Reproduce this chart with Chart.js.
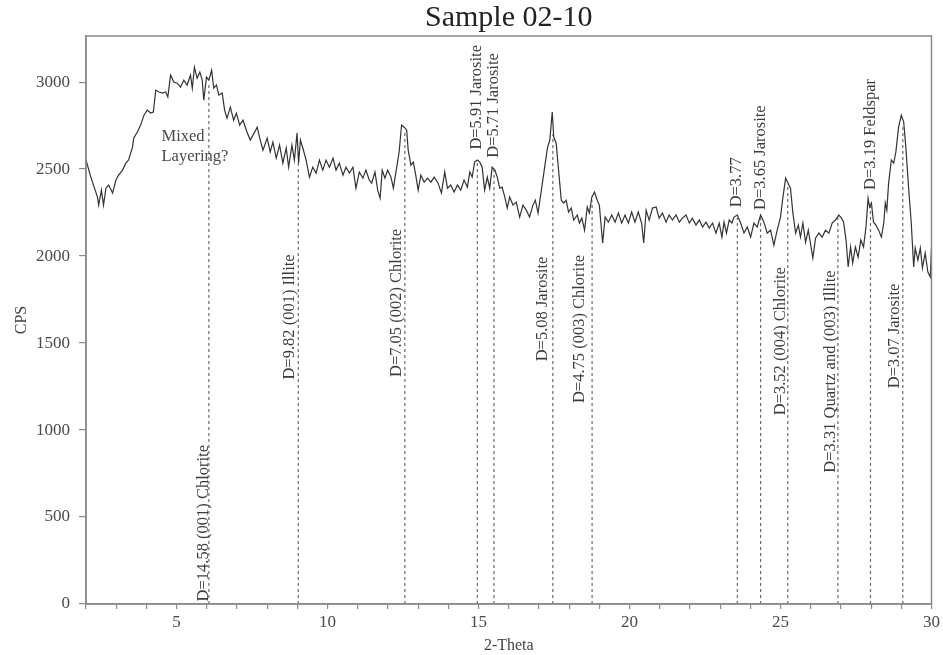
<!DOCTYPE html>
<html>
<head>
<meta charset="utf-8">
<title>Sample 02-10</title>
<script src="https://cdn.jsdelivr.net/npm/chart.js@4.4.1/dist/chart.umd.min.js"></script>
<style>
  html, body { margin: 0; padding: 0; background: #fff; }
  #wrap { width: 943px; height: 655px; }
</style>
</head>
<body>
<div id="wrap"><canvas id="xrdChart" width="943" height="655"></canvas></div>
<script>
// diffractogram trace, 2-theta (deg) vs counts per second
const twoTheta = [
  2.00, 2.16, 2.27, 2.38, 2.42, 2.51, 2.58, 2.66, 2.75, 2.88, 2.99, 3.08, 3.21, 3.32, 3.41, 3.54, 3.58, 3.70, 3.81, 3.92,
  4.03, 4.14, 4.23, 4.31, 4.42, 4.53, 4.64, 4.71, 4.80, 4.91, 5.02, 5.13, 5.24, 5.35, 5.46, 5.52, 5.59, 5.68, 5.77, 5.85,
  5.90, 5.99, 6.07, 6.16, 6.23, 6.32, 6.40, 6.51, 6.59, 6.67, 6.78, 6.89, 6.98, 7.09, 7.20, 7.33, 7.44, 7.53, 7.67, 7.77,
  7.86, 8.00, 8.10, 8.19, 8.30, 8.41, 8.52, 8.63, 8.71, 8.82, 8.90, 8.99, 9.04, 9.10, 9.18, 9.29, 9.40, 9.51, 9.62, 9.73,
  9.84, 9.95, 10.06, 10.18, 10.28, 10.39, 10.51, 10.61, 10.72, 10.84, 10.94, 11.05, 11.17, 11.27, 11.38,
  11.46, 11.57, 11.66, 11.74, 11.81, 11.90, 11.99, 12.10, 12.18, 12.29, 12.37, 12.45, 12.54, 12.62, 12.67, 12.76, 12.84, 12.92, 13.00, 13.09,
  13.20, 13.31, 13.42, 13.53, 13.66, 13.77, 13.88, 13.97, 14.08, 14.19, 14.30, 14.41, 14.52, 14.63, 14.71, 14.79, 14.87, 14.96, 15.04, 15.12,
  15.20, 15.29, 15.37, 15.45, 15.54, 15.62, 15.70, 15.78, 15.87, 15.95, 16.03, 16.14, 16.25, 16.36, 16.47, 16.58, 16.69, 16.80, 16.88, 16.97,
  17.08, 17.19, 17.28, 17.36, 17.44, 17.49, 17.57, 17.65, 17.74, 17.82, 17.90, 17.98, 18.07, 18.15, 18.27, 18.34, 18.42, 18.51, 18.60, 18.67,
  18.75, 18.84, 18.93, 19.00, 19.11, 19.19, 19.30, 19.41, 19.52, 19.63, 19.74, 19.85, 19.96, 20.07, 20.18, 20.29, 20.40, 20.47, 20.55, 20.65, 20.76,
  20.88, 20.98, 21.09, 21.21, 21.31, 21.42, 21.54, 21.65, 21.75, 21.87, 21.98, 22.08, 22.20, 22.31, 22.42, 22.53, 22.64, 22.75, 22.86, 22.97,
  23.06, 23.13, 23.21, 23.30, 23.39, 23.46, 23.57, 23.68, 23.79, 23.90, 24.01, 24.12, 24.23, 24.34, 24.45, 24.56, 24.67, 24.78, 24.89, 25.00,
  25.08, 25.17, 25.25, 25.33, 25.41, 25.50, 25.59, 25.66, 25.74, 25.83, 25.92, 25.99, 26.07, 26.16, 26.27, 26.38, 26.49, 26.60, 26.71, 26.82,
  26.93, 27.02, 27.09, 27.17, 27.24, 27.32, 27.39, 27.48, 27.57, 27.66, 27.75, 27.83, 27.90, 27.95, 28.01, 28.08, 28.16, 28.25, 28.34, 28.42,
  28.47, 28.52, 28.58, 28.67, 28.75, 28.82, 28.91, 29.00, 29.08, 29.15, 29.24, 29.33, 29.41, 29.46, 29.55, 29.63, 29.70, 29.79, 29.88, 29.96, 30.00
];
const cps = [
  2552, 2454, 2396, 2339, 2293, 2379, 2293, 2390, 2408, 2362, 2437, 2465, 2494, 2534, 2552, 2626, 2678, 2713, 2753, 2810,
  2839, 2822, 2828, 2954, 2943, 2937, 2943, 2914, 3040, 3000, 2994, 2971, 3011, 2983, 3040, 2965, 3086, 3023, 3057, 3011,
  2896, 3029, 3011, 3069, 2965, 2983, 2925, 2937, 2839, 2793, 2856, 2781, 2822, 2753, 2781, 2713, 2667, 2695, 2741, 2667,
  2609, 2678, 2598, 2655, 2563, 2638, 2534, 2621, 2511, 2638, 2552, 2707, 2534, 2667, 2621, 2552, 2454, 2511, 2477, 2552,
  2494, 2552, 2511, 2563, 2494, 2534, 2465, 2511, 2477, 2511, 2390, 2483, 2448, 2494, 2437,
  2419, 2483, 2379, 2333, 2494, 2448, 2494, 2454, 2390, 2511, 2598, 2753, 2741, 2724, 2609, 2523, 2540, 2465, 2379, 2465,
  2425, 2448, 2425, 2454, 2419, 2362, 2483, 2390, 2408, 2368, 2408, 2379, 2437, 2396, 2483, 2454, 2540, 2552, 2540, 2511,
  2379, 2454, 2390, 2511, 2494, 2454, 2390, 2396, 2339, 2276, 2339, 2293, 2310, 2224, 2293, 2264, 2224, 2293, 2321, 2247,
  2379, 2511, 2621, 2667, 2828, 2684, 2649, 2494, 2321, 2305, 2321, 2253, 2276, 2207, 2236, 2190, 2218, 2149, 2282, 2247,
  2339, 2368, 2321, 2293, 2075, 2224, 2195, 2236, 2195, 2247, 2190, 2236, 2190, 2253, 2195, 2253, 2190, 2075, 2264, 2207, 2276,
  2282, 2218, 2247, 2195, 2236, 2207, 2236, 2195, 2218, 2236, 2190, 2218, 2178, 2207, 2167, 2195, 2161, 2190, 2132, 2190,
  2109, 2195, 2132, 2207, 2190, 2224, 2236, 2190, 2132, 2167, 2109, 2190, 2167, 2236, 2195, 2132, 2149, 2063, 2149, 2224,
  2339, 2448, 2419, 2390, 2247, 2132, 2178, 2109, 2190, 2080, 2149, 2075, 1988, 2103, 2132, 2109, 2149, 2132, 2190, 2207,
  2236, 2218, 2195, 2092, 1937, 2052, 1960, 2052, 1994, 2092, 2052, 2167, 2333, 2282, 2305, 2195, 2178, 2149, 2109, 2190,
  2305, 2264, 2419, 2552, 2534, 2598, 2741, 2810, 2770, 2626, 2396, 2190, 1937, 2046, 1977, 2046, 1931, 2017, 1908, 1879, 2052
];

// identified reflections: position, intensity where the marker meets the trace, label
const peakTheta = [6.07, 9.03, 12.56, 14.96, 15.51, 17.46, 18.76, 23.57, 24.34, 25.24, 26.90, 27.98, 29.05];
const peakTop = [2985, 2550, 2720, 2545, 2505, 2700, 2320, 2220, 2220, 2400, 2225, 2285, 2740];
const peakLabels = [
  "D=14.58 (001) Chlorite",
  "D=9.82 (001) Illite",
  "D=7.05 (002) Chlorite",
  "D=5.91 Jarosite",
  "D=5.71 Jarosite",
  "D=5.08 Jarosite",
  "D=4.75 (003) Chlorite",
  "D=3.77",
  "D=3.65 Jarosite",
  "D=3.52 (004) Chlorite",
  "D=3.31 Quartz and (003) Illite",
  "D=3.19 Feldspar",
  "D=3.07 Jarosite"
];

const xTicks = [5, 10, 15, 20, 25, 30];
const yTicks = [0, 500, 1000, 1500, 2000, 2500, 3000];
const titleText = "Sample 02-10";
const noteLines = ["Mixed", "Layering?"];

// where each rotated label starts (counts) and how far it sits from its marker (px)
const labelPlace = [
  { from: 15, dx: -5 }, { from: 1290, dx: -9 }, { from: 1305, dx: -8 }, { from: 2612, dx: -1 },
  { from: 2565, dx: 0 }, { from: 1395, dx: -10 }, { from: 1155, dx: -12 }, { from: 2280, dx: -1 },
  { from: 2265, dx: 0 }, { from: 1085, dx: -7 }, { from: 755, dx: -7 }, { from: 2380, dx: 0 },
  { from: 1240, dx: -8 }
];

const SERIF = '"Liberation Serif", "DejaVu Serif", "Times New Roman", serif';

const markerSets = peakTheta.map((t, i) => ({
  data: [{ x: t, y: 0 }, { x: t, y: peakTop[i] }],
  borderColor: "#6a6a6a",
  borderWidth: 1.2,
  borderDash: [3, 3],
  pointRadius: 0,
  order: 2
}));

const chartFrame = {
  id: "chartFrame",
  afterDatasetsDraw(chart) {
    const { ctx, chartArea: a, scales: { x, y } } = chart;
    ctx.save();
    // title centred over the plot box
    ctx.fillStyle = "#222";
    ctx.font = "30px " + SERIF;
    ctx.textAlign = "center";
    ctx.textBaseline = "middle";
    ctx.fillText(titleText, (a.left + a.right) / 2, 18);
    // rotated peak labels
    ctx.fillStyle = "#3c3c3c";
    ctx.font = "16.5px " + SERIF;
    ctx.textAlign = "left";
    peakLabels.forEach((txt, i) => {
      const px = x.getPixelForValue(peakTheta[i]) + labelPlace[i].dx;
      const py = y.getPixelForValue(labelPlace[i].from);
      ctx.save();
      ctx.translate(px, py);
      ctx.rotate(-Math.PI / 2);
      ctx.fillText(txt, 0, 0);
      ctx.restore();
    });
    // note next to the broad hump
    ctx.font = "16.5px " + SERIF;
    ctx.fillStyle = "#4a4a4a";
    const nx = x.getPixelForValue(4.5);
    const ny = y.getPixelForValue(2685);
    noteLines.forEach((s, i) => ctx.fillText(s, nx, ny + i * 20));
    // box around the plot
    ctx.strokeStyle = "#8a8a8a";
    ctx.lineWidth = 1.5;
    ctx.strokeRect(a.left, a.top, a.right - a.left, a.bottom - a.top);
    ctx.restore();
  }
};

new Chart(document.getElementById("xrdChart"), {
  type: "line",
  data: {
    datasets: [
      {
        label: titleText,
        data: twoTheta.map((t, i) => ({ x: t, y: cps[i] })),
        borderColor: "#333333",
        borderWidth: 1.2,
        pointRadius: 0,
        tension: 0,
        order: 1
      },
      ...markerSets
    ]
  },
  options: {
    responsive: false,
    animation: false,
    events: [],
    layout: { padding: { left: 0, right: 8, top: 36, bottom: 0 } },
    scales: {
      x: {
        type: "linear",
        min: 2,
        max: 30,
        afterFit: (s) => { s.height = 51; },
        afterBuildTicks: (s) => {
          const t = [];
          for (let v = 2; v <= 30; v++) t.push({ value: v });
          s.ticks = t;
        },
        ticks: {
          autoSkip: false,
          maxRotation: 0,
          padding: 3,
          color: "#4a4a4a",
          font: { family: SERIF, size: 17 },
          callback: (v) => (xTicks.includes(v) ? String(v) : "")
        },
        grid: { drawOnChartArea: false, tickLength: 5, color: "#8a8a8a", lineWidth: 1.2 },
        border: { color: "#8a8a8a", width: 1.5 },
        title: {
          display: true,
          text: "2-Theta",
          color: "#444",
          font: { family: SERIF, size: 16 },
          padding: { top: 0, bottom: 0 }
        }
      },
      y: {
        min: 0,
        max: 3265,
        afterFit: (s) => { s.width = 86; },
        afterBuildTicks: (s) => { s.ticks = yTicks.map((v) => ({ value: v })); },
        ticks: {
          padding: 9,
          color: "#4a4a4a",
          font: { family: SERIF, size: 17 },
          callback: (v) => String(v)
        },
        grid: { drawOnChartArea: false, tickLength: 7, color: "#8a8a8a", lineWidth: 1.2 },
        border: { color: "#8a8a8a", width: 1.5 },
        title: {
          display: true,
          text: "CPS",
          color: "#444",
          font: { family: SERIF, size: 16 },
          padding: { top: 12, bottom: 0 }
        }
      }
    },
    plugins: {
      legend: { display: false },
      tooltip: { enabled: false },
      title: { display: false }
    }
  },
  plugins: [chartFrame]
});
</script>
</body>
</html>
